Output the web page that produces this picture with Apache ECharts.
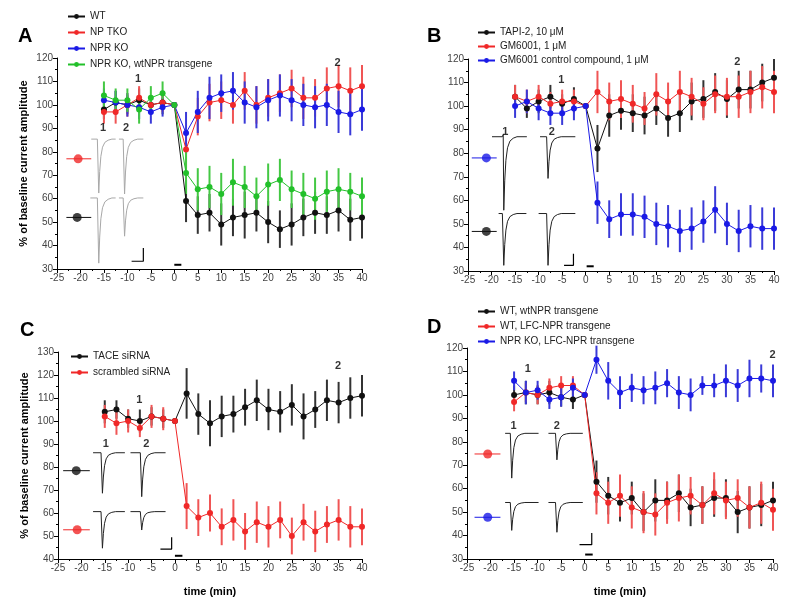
<!DOCTYPE html>
<html><head><meta charset="utf-8">
<script src="https://cdn.jsdelivr.net/npm/echarts@6/dist/echarts.min.js"></script>
<style>html,body{margin:0;padding:0;background:#fff}#c{width:800px;height:615px}</style>
</head><body><div id="c"></div>
<script>
// ---- shared x (time, min) ----
const TIME = [-15,-12.5,-10,-7.5,-5,-2.5,0,2.5,5,7.5,10,12.5,15,17.5,20,22.5,25,27.5,30,32.5,35,37.5,40];
const X_TICKS = {min:-25, max:40, interval:5};

// ---- Panel A ----
const A_WT      = [98,101,100,102,100,101,100,59,53,54,49,52,53,54,50,47,49,52,54,53,55,51,52];
const A_WT_ERR  = [4,5,4,5,4,5,0,9,8,8,9,8,10,8,9,8,9,8,9,8,9,9,9];
const A_TKO     = [97,97,100,103,100,101,100,81,95,101,102,100,106,100,103,105,107,103,103,107,108,106,108];
const A_TKO_ERR = [5,5,5,5,4,4,0,8,8,8,8,8,8,8,8,8,8,9,8,9,9,10,9];
const A_KO      = [102,101,100,99,97,99,100,88,97,103,105,106,101,99,102,104,102,100,99,100,97,96,98];
const A_KO_ERR  = [5,5,5,5,5,4,0,9,9,9,8,8,9,9,9,9,9,9,9,9,9,9,9];
const A_RES     = [104,102,102,98,103,105,100,71,64,65,62,67,65,61,66,68,64,62,60,63,64,63,61];
const A_RES_ERR = [6,5,5,6,5,5,0,9,9,9,9,10,9,8,9,9,8,9,9,9,9,8,8];

// ---- Panel B ----
const B_TAPI     = [104,99,102,104,101,103,100,82,96,98,97,96,99,95,97,102,103,106,103,107,107,110,112];
const B_TAPI_ERR = [5,4,5,5,4,5,0,10,9,8,8,8,7,8,8,8,8,8,8,8,8,8,8];
const B_GM       = [104,102,104,101,102,102,100,106,102,103,101,99,105,102,106,104,101,105,104,104,106,108,106];
const B_GM_ERR   = [5,5,5,5,5,5,0,9,8,8,8,7,9,8,9,8,7,8,8,9,9,9,9];
const B_CTRL     = [100,102,99,97,97,99,100,59,52,54,54,53,50,49,47,48,51,56,50,47,49,48,48];
const B_CTRL_ERR = [5,5,5,5,5,5,0,9,8,9,9,9,9,9,9,9,9,10,9,9,9,9,9];

// ---- Panel C ----
const C_TACE     = [104,105,101,100,102,101,100,112,103,99,102,103,106,109,105,104,107,102,105,109,108,110,111];
const C_TACE_ERR = [5,4,4,5,4,4,0,11,9,10,9,8,8,9,9,9,9,10,8,9,9,9,9];
const C_SCR      = [102,99,100,97,102,101,100,63,58,60,54,57,52,56,54,57,50,56,52,55,57,54,54];
const C_SCR_ERR  = [5,5,5,4,5,5,0,10,8,8,8,9,8,9,9,8,8,8,9,8,9,9,8];

// ---- Panel D ----
const D_WT      = [100,101,100,101,99,98,100,63,57,54,56,50,55,55,58,52,53,56,56,50,52,53,55];
const D_WT_ERR  = [4,5,4,5,4,4,0,9,8,8,7,8,9,8,8,8,8,8,8,9,9,9,8];
const D_LFC     = [97,101,100,103,104,104,100,58,54,57,52,50,49,54,56,57,53,58,55,56,52,54,51];
const D_LFC_ERR = [4,4,4,4,4,4,0,9,9,9,9,9,9,9,10,8,8,9,8,8,9,9,9];
const D_KO      = [106,101,102,98,99,103,100,115,106,101,103,102,103,105,101,100,104,104,106,104,107,107,106];
const D_KO_ERR  = [4,5,4,4,4,4,0,6,8,7,6,6,7,6,7,7,4,5,7,7,8,6,7];

// ---- inset annotations (data coordinates) ----
// traces: [dipX, startX, endX, baseline, peak]
const A_TRACES = [[-16.1,-17.7,-12.5,85.4,62.4],[-10.6,-11.8,-6.6,85.4,62],[-16.1,-17.9,-12.5,60.3,32.5],[-10.6,-11.8,-6.6,60.3,44]];
const B_TRACES = [[-17.4,-19.9,-12.5,87,55.8],[-8.0,-9.7,-2.2,87,69.3],[-17.4,-18.5,-12.6,54.4,32.4],[-8.0,-10,-2.2,54.4,32.4]];
const C_TRACES = [[-15.5,-17.5,-10.7,86.2,68.6],[-7.1,-9.5,-2,86.2,67.1],[-15.5,-17.5,-10.7,60.6,44.7],[-7.1,-9.5,-2,60.6,52.6]];
const D_TRACES = [[-15.5,-16.9,-9.8,83.6,64.5],[-5.9,-7.7,-0.4,83.6,72.3],[-15.5,-16.9,-9.8,54.1,42.2],[-5.9,-7.7,-0.4,54.1,41.4]];
// trace shape: [offset from dip, fraction of depth]
const TRACE_SHAPE = [[-0.3,0],[-0.12,-0.03],[0,1],[0.2,0.6],[0.45,0.32],[0.8,0.15],[1.3,0.06],[2.0,0.02],[2.8,0]];
// key markers: [x1, x2, xm, y, colour]
const A_KEYS = [[-23,-17.7,-20.5,77,'#f02828'],[-23,-17.7,-20.7,52,'#111']];
const B_KEYS = [[-24.2,-18.9,-21.1,78,'#1a1ae6'],[-24.2,-18.9,-21.1,46.8,'#111']];
const C_KEYS = [[-23.9,-18.2,-21.1,78.4,'#111'],[-23.9,-18.2,-20.9,52.7,'#f02828']];
const D_KEYS = [[-23.4,-17.9,-20.6,74.8,'#f02828'],[-23.4,-17.9,-20.6,47.8,'#1a1ae6']];
// scale bars and stimulus bars
const A_SCALE = [[-9.1,33.3],[-6.6,33.3],[-6.6,39]], A_STIM = [[0,31.8],[1.5,31.8]];
const B_SCALE = [[-4.6,32.4],[-2.6,32.4],[-2.6,37.3]], B_STIM = [[0.2,32],[1.7,32]];
const C_SCALE = [[-3.1,44.3],[-0.7,44.3],[-0.7,49.5]], C_STIM = [[0,41.4],[1.6,41.4]];
const D_SCALE = [[-1.1,36.1],[1.5,36.1],[1.5,41.1]], D_STIM = [[0.1,31.9],[1.7,31.9]];
// number labels
const A_NUMS = [[-15.2,90,'1'],[-10.3,90,'2'],[-7.7,111,'1'],[34.8,118,'2']];
const B_NUMS = [[-17.1,89,'1'],[-7.2,89,'2'],[-5.2,111,'1'],[32.2,118.6,'2']];
const C_NUMS = [[-14.8,90,'1'],[-6.1,90,'2'],[-7.6,109.3,'1'],[34.9,123.8,'2']];
const D_NUMS = [[-15.1,86.7,'1'],[-5.9,86.7,'2'],[-12.1,111.2,'1'],[39.9,116.9,'2']];

const BLACK='#111', RED='#f02828', BLUE='#1a1ae6', GREEN='#22c02a';
const FONT = 'Liberation Sans';

const panels = [
  {letter:'A', grid:{left:57,top:58,width:305,height:211}, y:[30,120], yName:true, xName:false,
   legend:{left:67,top:10,gap:3},
   series:[
     {name:'WT', v:A_WT, e:A_WT_ERR, c:BLACK, ec:'#333'},
     {name:'NP TKO', v:A_TKO, e:A_TKO_ERR, c:RED, ec:'#f05555'},
     {name:'NPR KO', v:A_KO, e:A_KO_ERR, c:BLUE, ec:'#3a3ad8'},
     {name:'NPR KO, wtNPR transgene', v:A_RES, e:A_RES_ERR, c:GREEN, ec:'#44c844'}],
   traces:A_TRACES, traceColor:'#a8a8a8', keys:A_KEYS, scale:A_SCALE, stim:A_STIM, nums:A_NUMS},
  {letter:'B', grid:{left:468,top:59,width:306,height:212}, y:[30,120], yName:false, xName:false,
   legend:{left:477,top:26,gap:1},
   series:[
     {name:'TAPI-2, 10 μM', v:B_TAPI, e:B_TAPI_ERR, c:BLACK, ec:'#333'},
     {name:'GM6001, 1 μM', v:B_GM, e:B_GM_ERR, c:RED, ec:'#f05555'},
     {name:'GM6001 control compound, 1 μM', v:B_CTRL, e:B_CTRL_ERR, c:BLUE, ec:'#3a3ad8'}],
   traces:B_TRACES, traceColor:'#222', keys:B_KEYS, scale:B_SCALE, stim:B_STIM, nums:B_NUMS},
  {letter:'C', grid:{left:58,top:352,width:304,height:207}, y:[40,130], yName:true, xName:true,
   legend:{left:70,top:350,gap:3},
   series:[
     {name:'TACE siRNA', v:C_TACE, e:C_TACE_ERR, c:BLACK, ec:'#333'},
     {name:'scrambled siRNA', v:C_SCR, e:C_SCR_ERR, c:RED, ec:'#f05555'}],
   traces:C_TRACES, traceColor:'#222', keys:C_KEYS, scale:C_SCALE, stim:C_STIM, nums:C_NUMS},
  {letter:'D', grid:{left:467,top:348,width:306,height:211}, y:[30,120], yName:false, xName:true,
   legend:{left:477,top:305,gap:2},
   series:[
     {name:'WT, wtNPR transgene', v:D_WT, e:D_WT_ERR, c:BLACK, ec:'#333'},
     {name:'WT, LFC-NPR transgene', v:D_LFC, e:D_LFC_ERR, c:RED, ec:'#f05555'},
     {name:'NPR KO, LFC-NPR transgene', v:D_KO, e:D_KO_ERR, c:BLUE, ec:'#3a3ad8'}],
   traces:D_TRACES, traceColor:'#222', keys:D_KEYS, scale:D_SCALE, stim:D_STIM, nums:D_NUMS}
];

const letterPos = {A:[18,37], B:[427,37], C:[20,331], D:[427,328]};

const option = {animation:false, backgroundColor:'#fff', grid:[], xAxis:[], yAxis:[], legend:[], series:[], graphic:[]};

function errRender(color){
  return function(params, api){
    const x=api.value(0), y=api.value(1), e=api.value(2);
    if(!e) return null;
    const p1=api.coord([x,y-e]), p2=api.coord([x,y+e]);
    return {type:'line', shape:{x1:p1[0],y1:p1[1],x2:p2[0],y2:p2[1]}, style:{stroke:color, lineWidth:2}};
  };
}

panels.forEach((p, gi) => {
  option.grid.push(Object.assign({containLabel:false}, p.grid));
  const axisCommon = {
    axisLine:{show:true, onZero:false, lineStyle:{color:'#000', width:1}},
    axisTick:{show:true, length:4, lineStyle:{color:'#000'}},
    minorTick:{show:true, splitNumber:2, length:2, lineStyle:{color:'#000'}},
    splitLine:{show:false},
    axisLabel:{fontFamily:FONT, fontSize:10, color:'#444', margin:4},
    nameTextStyle:{fontFamily:FONT, fontSize:11, fontWeight:'bold', color:'#000'}
  };
  option.xAxis.push(Object.assign({type:'value', gridIndex:gi, min:X_TICKS.min, max:X_TICKS.max, interval:X_TICKS.interval,
    name: p.xName ? 'time (min)' : '', nameLocation:'middle', nameGap:27}, axisCommon));
  option.yAxis.push(Object.assign({type:'value', gridIndex:gi, min:p.y[0], max:p.y[1], interval:10,
    name: p.yName ? '% of baseline current amplitude' : '', nameLocation:'middle', nameGap:28}, axisCommon));
  option.legend.push({orient:'vertical', left:p.legend.left, top:p.legend.top, itemGap:p.legend.gap,
    itemWidth:17, itemHeight:6, selectedMode:false, padding:0,
    textStyle:{fontFamily:FONT, fontSize:10, color:'#222', lineHeight:13},
    data:p.series.map(s=>s.name)});

  // inset traces
  p.traces.forEach(t => {
    const [dx, sx, ex, base, peak] = t;
    const pts = [[sx, base]];
    TRACE_SHAPE.forEach(([o,f]) => { const xx = dx+o; if (xx > sx && xx < ex) pts.push([xx, base - f*(base-peak)]); });
    pts.push([ex, base]);
    option.series.push({type:'line', xAxisIndex:gi, yAxisIndex:gi, data:pts, showSymbol:false, silent:true,
      lineStyle:{color:p.traceColor, width:1}, z:1});
  });
  // key markers
  p.keys.forEach(k => {
    option.series.push({type:'line', xAxisIndex:gi, yAxisIndex:gi, data:[[k[0],k[3]],[k[1],k[3]]], showSymbol:false, silent:true,
      lineStyle:{color:k[4], width:1}, z:1});
    option.series.push({type:'scatter', xAxisIndex:gi, yAxisIndex:gi, data:[[k[2],k[3]]], symbol:'circle', symbolSize:9, silent:true,
      itemStyle:{color:k[4]}, z:2});
  });
  // scale & stimulus bars
  option.series.push({type:'line', xAxisIndex:gi, yAxisIndex:gi, data:p.scale, showSymbol:false, silent:true, lineStyle:{color:'#000', width:1.2}, z:1});
  option.series.push({type:'line', xAxisIndex:gi, yAxisIndex:gi, data:p.stim, showSymbol:false, silent:true, lineStyle:{color:'#000', width:2}, z:1});
  // numbers
  option.series.push({type:'scatter', xAxisIndex:gi, yAxisIndex:gi, data:p.nums.map(n=>({value:[n[0],n[1]], name:n[2]})),
    symbolSize:0, silent:true, z:5,
    label:{show:true, position:'inside', formatter:'{b}', fontFamily:FONT, fontSize:11, fontWeight:'bold', color:'#000'}});

  // data series
  p.series.forEach(s => {
    option.series.push({type:'custom', xAxisIndex:gi, yAxisIndex:gi, renderItem:errRender(s.ec), silent:true,
      data:TIME.map((x,i)=>[x, s.v[i], s.e[i]]), encode:{x:0,y:1}, z:2});
  });
  p.series.forEach(s => {
    option.series.push({type:'line', name:s.name, xAxisIndex:gi, yAxisIndex:gi,
      data:TIME.map((x,i)=>[x, s.v[i]]), symbol:'circle', symbolSize:6, showSymbol:true,
      lineStyle:{color:s.c, width:1}, itemStyle:{color:s.c}, z:3});
  });

  option.graphic.push({type:'text', left:letterPos[p.letter][0], top:letterPos[p.letter][1]-11,
    style:{text:p.letter, font:'bold 20px "Liberation Sans"', fill:'#000'}});
});

const chart = echarts.init(document.getElementById('c'), null, {renderer:'canvas'});
chart.setOption(option);
</script></body></html>
